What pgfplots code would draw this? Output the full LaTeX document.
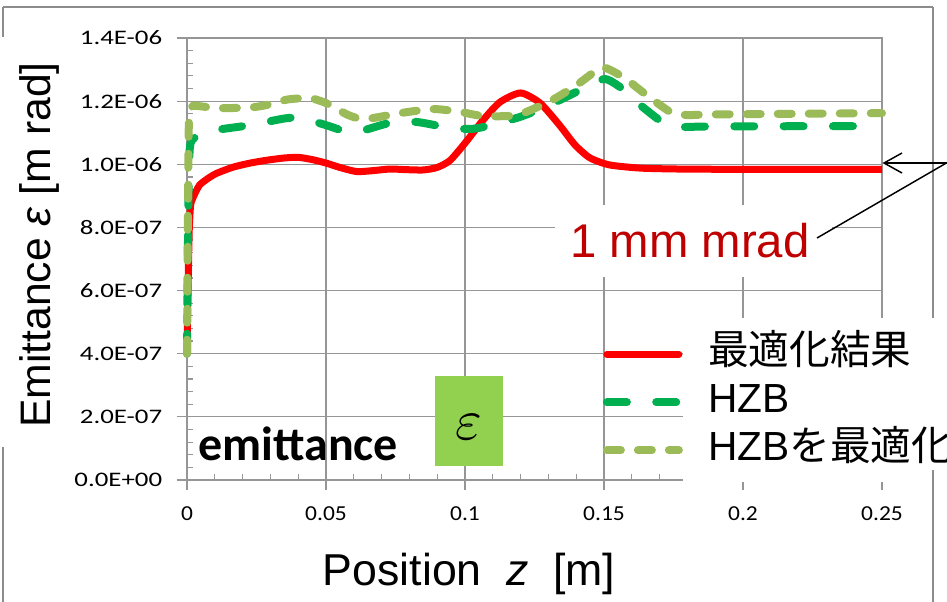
\documentclass[border=0pt]{standalone}
\usepackage{fontspec}
\setmainfont{Liberation Sans}
\newfontfamily\carlito{Carlito}
\newfontfamily\jp{Noto Sans CJK JP}
\usepackage{pgfplots}
\pgfplotsset{compat=1.18}
\definecolor{axgray}{RGB}{150,150,150}
\definecolor{framegray}{RGB}{140,140,140}
\definecolor{hzbgreen}{RGB}{0,176,80}
\definecolor{optgreen}{RGB}{155,187,89}
\definecolor{boxgreen}{RGB}{146,208,80}
\definecolor{darkred}{RGB}{192,0,0}
\begin{document}
\begin{tikzpicture}
\useasboundingbox (0pt,0pt) rectangle (710.25pt,-450.75pt);
\begin{axis}[
  at={(140.25pt,-360pt)}, anchor=south west,
  scale only axis, width=521.25pt, height=331.5pt,
  xmin=0, xmax=0.25, ymin=0, ymax=1.4,
  xtick={0,0.05,0.1,0.15,0.2,0.25},
  xticklabels={0,0.05,0.1,0.15,0.2,0.25},
  ytick={0,0.2,0.4,0.6,0.8,1.0,1.2,1.4},
  yticklabels={0.0E+00,2.0E-07,4.0E-07,6.0E-07,8.0E-07,1.0E-06,1.2E-06,1.4E-06},
  minor x tick num=4, minor y tick num=4,
  tick pos=left, tick align=outside,
  major tick length=7.5pt, minor tick length=4.5pt,
  minor x tick style={yshift=4.5pt}, minor y tick style={xshift=4.5pt},
  tick style={draw=axgray, line width=0.9pt},
  grid=major, major grid style={draw=axgray, line width=0.9pt},
  axis line style={draw=axgray, line width=0.9pt},
  clip=false,
  xticklabel style={font=\carlito\fontsize{16}{18}\selectfont, xscale=1.1, yshift=-9pt},
  yticklabel style={font=\carlito\fontsize{15.5}{18}\selectfont, xscale=1.3, xshift=-5pt},
  xlabel={Position\hspace{0.55em}\textit{z}\hspace{0.55em}[m]},
  every axis x label/.style={at={(axis description cs:0.4058,-0.2376)}, anchor=base, font=\fontsize{33.5}{38}\selectfont},
  ylabel={Emittance \textit{ε} [m rad]},
  every axis y label/.style={at={(axis description cs:-0.1971,0.5317)}, rotate=90, anchor=base, font=\fontsize{32}{38}\selectfont},
  legend image code/.code={\draw[#1, line cap=round] (0pt,0pt) -- (54pt,0pt);},
  legend style={at={(axis cs:0.1496,0.4593)}, anchor=north west, draw=none, fill=none,
    inner sep=0pt, outer sep=0pt, font=\fontsize{30.5}{35}\selectfont, row sep=7pt,
    nodes={inner sep=0pt, text height=22pt, text depth=7pt},
    /tikz/every odd column/.append style={column sep=19pt}},
  legend cell align=left,
]
\addplot[red, line width=5.25pt, smooth, tension=0.4] coordinates {
(0,0.40) (0.0004,0.62) (0.0008,0.79) (0.0013,0.87) (0.0022,0.895) (0.0045,0.934)
(0.008,0.958) (0.0108,0.972) (0.0166,0.991) (0.0228,1.004) (0.0288,1.013)
(0.035,1.02) (0.040,1.022) (0.045,1.015) (0.050,1.004) (0.055,0.99) (0.061,0.977)
(0.067,0.98) (0.073,0.985) (0.079,0.983) (0.085,0.982) (0.090,0.99) (0.0946,1.012)
(0.100,1.067) (0.1065,1.14) (0.1126,1.197) (0.120,1.226) (0.127,1.194) (0.134,1.124)
(0.1396,1.061) (0.145,1.02) (0.152,0.998) (0.163,0.988) (0.177,0.985) (0.20,0.984) (0.25,0.984)};
\addlegendentry{\jp 最適化結果}
\addplot[hzbgreen, line width=6pt, line cap=round, dash pattern=on 15pt off 22pt, smooth, tension=0.4] coordinates {
(0,0.40) (0.0003,0.7) (0.0006,0.95) (0.001,1.05) (0.0018,1.077) (0.0047,1.093)
(0.0108,1.109) (0.0227,1.124) (0.035,1.145) (0.0407,1.147) (0.05,1.124) (0.058,1.102)
(0.064,1.109) (0.073,1.131) (0.0827,1.134) (0.0946,1.115) (0.1018,1.112) (0.1065,1.118)
(0.1187,1.147) (0.1245,1.166) (0.1342,1.204) (0.1414,1.235) (0.1504,1.27) (0.158,1.23)
(0.163,1.188) (0.172,1.127) (0.177,1.118) (0.19,1.12) (0.25,1.121)};
\addlegendentry{HZB}
\addplot[optgreen, line width=6pt, line cap=round, dash pattern=on 10.5pt off 12.75pt, smooth, tension=0.4] coordinates {
(0,0.40) (0.0003,0.8) (0.0006,1.1) (0.001,1.16) (0.0022,1.185) (0.0108,1.178)
(0.0227,1.18) (0.0288,1.188) (0.036,1.205) (0.0425,1.21) (0.0445,1.21) (0.05,1.194)
(0.058,1.156) (0.064,1.143) (0.0766,1.162) (0.0885,1.175) (0.0982,1.166) (0.1065,1.153)
(0.1187,1.156) (0.1306,1.20) (0.14,1.25) (0.1486,1.305) (0.152,1.30) (0.158,1.27)
(0.163,1.235) (0.1738,1.166) (0.180,1.156) (0.19,1.158) (0.25,1.162)};
\addlegendentry{HZB{\jp を最適化}}
\fill[white] (axis cs:0.1784,-0.005) rectangle (axis cs:0.27,0.513);
\end{axis}
\begin{scope}[x=0.75pt,y=-0.75pt]
  \draw[framegray, line width=1.5pt] (3,7) -- (933,7);
  \draw[framegray, line width=1.5pt] (3,7) -- (3,37);
  \draw[framegray, line width=1.5pt] (3,447) -- (3,605);
  \draw[framegray, line width=1.5pt] (933,7) -- (933,318);
  \draw[framegray, line width=1.5pt] (933,470) -- (933,605);
  \node[anchor=base west, inner sep=0pt, font=\carlito\bfseries\fontsize{36}{40}\selectfont] at (198,460) {emittance};
  \fill[boxgreen] (435,376) rectangle (503,466);
  \node[anchor=base, inner sep=0pt, scale=4.3] at (469,439) {$\varepsilon$};
  \fill[white] (555,205) rectangle (832,277);
  \node[anchor=base west, inner sep=0pt, text=darkred, font=\fontsize{35.5}{40}\selectfont] at (570,257) {1 mm mrad};
  \draw[black, line width=1.1pt] (817,238) -- (955,158);
  \draw[black, line width=1.1pt] (955,163) -- (884,163);
  \draw[black, line width=1.1pt] (902,153) -- (884,163) -- (902,173);
\end{scope}
\end{tikzpicture}
\end{document}
